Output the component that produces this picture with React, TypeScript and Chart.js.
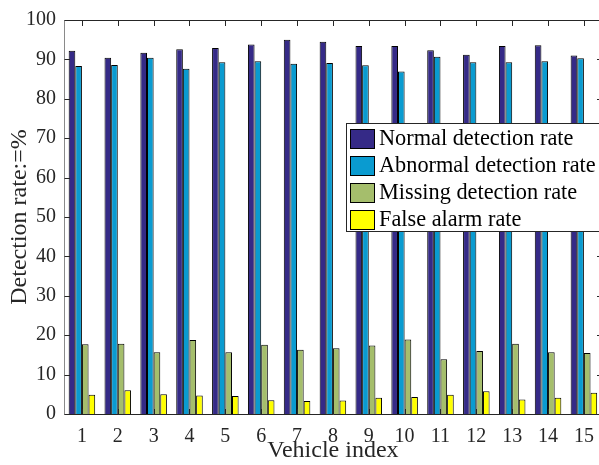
import React, { useEffect, useRef } from 'react';
import { Chart, registerables } from 'chart.js';

Chart.register(...registerables);

const categories = ['1', '2', '3', '4', '5', '6', '7', '8', '9', '10', '11', '12', '13', '14', '15'];
const normalRate = [92.2, 90.4, 91.7, 92.6, 92.9, 93.8, 95.0, 94.5, 93.4, 93.4, 92.3, 91.2, 93.4, 93.6, 91.0];
const abnormalRate = [88.3, 88.6, 90.4, 87.6, 89.3, 89.5, 88.9, 89.1, 88.5, 86.9, 90.7, 89.3, 89.3, 89.5, 90.3];
const missingRate = [17.7, 17.8, 15.7, 18.8, 15.7, 17.6, 16.3, 16.7, 17.4, 18.9, 13.9, 16.0, 17.8, 15.7, 15.5];
const falseAlarmRate = [4.9, 6.0, 5.0, 4.7, 4.6, 3.5, 3.3, 3.4, 4.1, 4.3, 4.9, 5.8, 3.7, 4.1, 5.4];
const seriesLabels = ['Normal detection rate', 'Abnormal detection rate', 'Missing detection rate', 'False alarm rate'];
const seriesColors = ['#352A87', '#0A9BD0', '#A5BE6C', '#FFFF00'];
const yTicks = [0, 10, 20, 30, 40, 50, 60, 70, 80, 90, 100];

const FONT = "'Liberation Serif', 'Times New Roman', serif";
const AXIS = '#262626';

const boxPlugin = {
  id: 'matlabBox',
  afterDatasetsDraw(chart: any) {
    const { ctx, chartArea: a, scales } = chart;
    const x = scales.x;
    const y = scales.y;
    ctx.save();
    ctx.lineWidth = 1;
    ctx.strokeStyle = AXIS;
    const L = Math.round(a.left) + 0.5;
    const R = Math.round(a.right) + 0.5;
    const T = Math.round(a.top) + 0.5;
    const B = Math.round(a.bottom) + 0.5;
    ctx.beginPath();
    ctx.moveTo(L, T);
    ctx.lineTo(R, T);
    ctx.lineTo(R, B);
    ctx.lineTo(L, B);
    ctx.stroke();
    ctx.strokeStyle = '#8a8a8a';
    ctx.beginPath();
    ctx.moveTo(L, T);
    ctx.lineTo(L, B);
    ctx.stroke();
    ctx.strokeStyle = AXIS;
    ctx.beginPath();
    const tl = 5.5;
    for (let i = 0; i < categories.length; i++) {
      const px = Math.round(x.getPixelForTick(i)) + 0.5;
      ctx.moveTo(px, T);
      ctx.lineTo(px, T + tl);
      ctx.moveTo(px, B);
      ctx.lineTo(px, B - tl);
    }
    for (const v of yTicks) {
      const py = Math.round(y.getPixelForValue(v)) + 0.5;
      ctx.moveTo(L, py);
      ctx.lineTo(L + tl, py);
      ctx.moveTo(R, py);
      ctx.lineTo(R - tl, py);
    }
    ctx.stroke();
    ctx.restore();
  },
  afterDraw(chart: any) {
    const { ctx } = chart;
    const left = 346.5;
    const top = 123.5;
    const right = 600.5;
    const bottom = 231.5;
    ctx.save();
    ctx.fillStyle = '#ffffff';
    ctx.fillRect(left, top, right - left, bottom - top);
    ctx.strokeStyle = AXIS;
    ctx.lineWidth = 1;
    ctx.strokeRect(left, top, right - left, bottom - top);
    ctx.font = `22.3px ${FONT}`;
    ctx.textBaseline = 'middle';
    ctx.textAlign = 'left';
    chart.data.datasets.forEach((ds: any, i: number) => {
      const cy = 138.5 + i * 27;
      ctx.fillStyle = ds.backgroundColor;
      ctx.fillRect(350.5, Math.round(cy - 9.5) + 0.5, 24, 19);
      ctx.strokeStyle = '#000';
      ctx.strokeRect(350.5, Math.round(cy - 9.5) + 0.5, 24, 19);
      ctx.fillStyle = '#000';
      ctx.fillText(ds.label, 379, cy + 1);
    });
    ctx.restore();
  },
};

export default function App() {
  const ref = useRef<HTMLCanvasElement>(null);
  useEffect(() => {
    if (!ref.current) return;
    const datasetsSrc = [normalRate, abnormalRate, missingRate, falseAlarmRate];
    const chart = new Chart(ref.current, {
      type: 'bar',
      data: {
        labels: categories,
        datasets: datasetsSrc.map((d, i) => ({
          label: seriesLabels[i],
          data: d,
          backgroundColor: seriesColors[i],
          borderColor: '#000000',
          borderWidth: 1,
          categoryPercentage: 0.74,
          barPercentage: 1.0,
        })),
      },
      options: {
        animation: false,
        responsive: false,
        devicePixelRatio: 1,
        layout: { padding: { top: 14, right: 3, left: 0, bottom: 0 } },
        plugins: { legend: { display: false }, tooltip: { enabled: false } },
        scales: {
          x: {
            grid: { display: false, drawTicks: false },
            border: { display: false },
            ticks: { color: AXIS, font: { family: FONT, size: 20 }, padding: 11, maxRotation: 0 },
            title: {
              display: true,
              text: 'Vehicle index',
              color: AXIS,
              font: { family: FONT, size: 24, lineHeight: 1 },
              padding: { top: 0, bottom: 2 },
            },
            afterFit: (s: any) => { s.height = 51; },
          },
          y: {
            min: 0,
            max: 100,
            grid: { display: false, drawTicks: false },
            border: { display: false },
            ticks: { stepSize: 10, color: AXIS, font: { family: FONT, size: 20 }, padding: 8 },
            title: {
              display: true,
              text: 'Detection rate:=%',
              color: AXIS,
              font: { family: FONT, size: 24, lineHeight: 1 },
              padding: { top: 8, bottom: 0 },
            },
            afterFit: (s: any) => { s.width = 64; },
          },
        },
      },
      plugins: [boxPlugin],
    });
    return () => chart.destroy();
  }, []);
  return (
    <div style={{ position: 'fixed', left: 0, top: 0, width: 599, height: 465, overflow: 'hidden', background: '#fff' }}>
      <canvas ref={ref} width={605} height={465} style={{ display: 'block' }} />
    </div>
  );
}
